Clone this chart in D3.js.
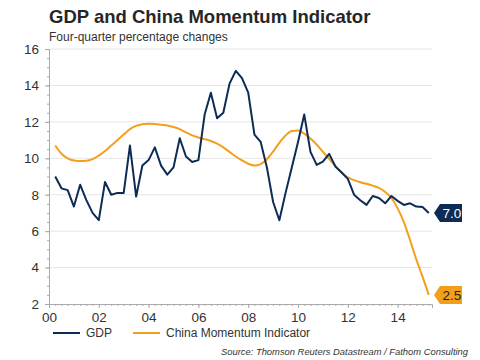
<!DOCTYPE html>
<html><head><meta charset="utf-8">
<script src="https://cdn.jsdelivr.net/npm/d3@7"></script>
<style>body{margin:0;background:#fff;font-family:"Liberation Sans",Arial,sans-serif;}</style>
</head><body><svg id="c" width="480" height="360"></svg>
<script>
const quarters = d3.range(61).map(i => 2000.25 + i*0.25);
const gdp = [9.0,8.35,8.25,7.35,8.55,7.7,7.0,6.6,8.7,8.0,8.1,8.1,10.7,7.9,9.6,9.9,10.6,9.6,9.1,9.5,11.1,10.1,9.8,9.9,12.4,13.6,12.2,12.5,14.1,14.8,14.4,13.6,11.3,10.9,9.5,7.6,6.6,8.1,9.5,10.9,12.4,10.35,9.64,9.82,10.24,9.55,9.22,8.87,8.0,7.7,7.44,7.93,7.82,7.53,7.93,7.66,7.44,7.53,7.35,7.33,7.0];
const cmi = [10.7,10.25,10.0,9.88,9.85,9.86,9.95,10.15,10.4,10.7,11.0,11.3,11.6,11.78,11.87,11.9,11.88,11.84,11.8,11.72,11.6,11.42,11.26,11.14,11.05,10.95,10.8,10.6,10.35,10.1,9.88,9.7,9.6,9.68,9.95,10.37,10.85,11.25,11.5,11.52,11.35,11.08,10.75,10.35,9.97,9.58,9.22,8.95,8.8,8.68,8.6,8.5,8.37,8.15,7.82,7.25,6.5,5.5,4.45,3.5,2.5];
const xTicks = [2000,2002,2004,2006,2008,2010,2012,2014];
const xTickLabels = ["00","02","04","06","08","10","12","14"];
const yTicks = [2,4,6,8,10,12,14,16];
const seriesNames = ["GDP","China Momentum Indicator"];
const endLabels = ["7.0","2.5"];

const navy = "#0c2b55", orange = "#f2a01c", txt = "#333";
const svg = d3.select("#c");
const x = d3.scaleLinear().domain([2000, 2015.38]).range([49, 432]);
const y = d3.scaleLinear().domain([2, 16]).range([304, 49]);

svg.append("text").attr("x", 49).attr("y", 23).attr("font-size", 18.5).attr("font-weight", "bold").attr("fill", "#262626").text("GDP and China Momentum Indicator");
svg.append("text").attr("x", 49).attr("y", 41).attr("font-size", 12).attr("fill", txt).text("Four-quarter percentage changes");

// gridlines
svg.append("g").selectAll("line").data(yTicks.filter(d => d > 2)).join("line")
  .attr("x1", 49).attr("x2", 432).attr("y1", d => y(d)).attr("y2", d => y(d))
  .attr("stroke", "#e6e6e6").attr("stroke-width", 1);

// y axis
const ya = svg.append("g").attr("transform", "translate(49,0)")
  .call(d3.axisLeft(y).tickValues(yTicks).tickSize(4).tickPadding(6).tickFormat(d3.format("d")));
ya.select(".domain").attr("stroke", "#aaa");
ya.selectAll(".tick line").attr("stroke", "#aaa");
ya.selectAll("text").attr("font-size", 13.5).attr("fill", txt).attr("font-family", "Liberation Sans, Arial, sans-serif");
svg.append("g").attr("transform", "translate(49,0)")
  .call(d3.axisLeft(y).tickValues(d3.range(2, 16.01, 0.5)).tickSize(2).tickFormat(""))
  .call(g => g.select(".domain").remove()).selectAll("line").attr("stroke", "#aaa");

// x axis
const xa = svg.append("g").attr("transform", "translate(0,304)")
  .call(d3.axisBottom(x).tickValues(xTicks).tickSize(4).tickPadding(4).tickFormat((d, i) => xTickLabels[i]));
xa.select(".domain").attr("stroke", "#aaa");
xa.selectAll(".tick line").attr("stroke", "#aaa");
xa.selectAll("text").attr("font-size", 13.5).attr("fill", txt).attr("font-family", "Liberation Sans, Arial, sans-serif");
svg.append("g").attr("transform", "translate(0,304)")
  .call(d3.axisBottom(x).tickValues(d3.range(2000, 2015.3, 0.25)).tickSize(2).tickFormat(""))
  .call(g => g.select(".domain").remove()).selectAll("line").attr("stroke", "#aaa");

// lines
const lineC = d3.line().x((d, i) => x(quarters[i])).y(d => y(d)).curve(d3.curveMonotoneX);
const lineG = d3.line().x((d, i) => x(quarters[i])).y(d => y(d));
svg.append("path").datum(cmi).attr("d", lineC).attr("fill", "none").attr("stroke", orange).attr("stroke-width", 2);
svg.append("path").datum(gdp).attr("d", lineG).attr("fill", "none").attr("stroke", navy).attr("stroke-width", 2).attr("stroke-linejoin", "round");

// end labels
function endLabel(val, text, fill, color) {
  const yy = y(val), x0 = 434;
  svg.append("path").attr("d", `M${x0},${yy} L${x0+6},${yy-9} L${x0+28},${yy-9} L${x0+28},${yy+9} L${x0+6},${yy+9} Z`).attr("fill", fill);
  svg.append("text").attr("x", x0 + 18).attr("y", yy + 5).attr("text-anchor", "middle").attr("font-size", 13.5).attr("fill", color).text(text);
}
endLabel(gdp[gdp.length-1], endLabels[0], navy, "#fff");
endLabel(cmi[cmi.length-1], endLabels[1], orange, "#222");

// legend
const lg = svg.append("g").attr("transform", "translate(0,337)");
[[53, navy, seriesNames[0]], [133, orange, seriesNames[1]]].forEach(([lx, c, t]) => {
  lg.append("line").attr("x1", lx).attr("x2", lx + 27).attr("y1", -4).attr("y2", -4).attr("stroke", c).attr("stroke-width", 2);
  lg.append("text").attr("x", lx + 33).attr("y", 0).attr("font-size", 12).attr("fill", txt).text(t);
});

svg.append("text").attr("x", 468).attr("y", 355).attr("text-anchor", "end").attr("font-size", 9.4).attr("font-style", "italic").attr("fill", txt).text("Source: Thomson Reuters Datastream / Fathom Consulting");
</script></body></html>
